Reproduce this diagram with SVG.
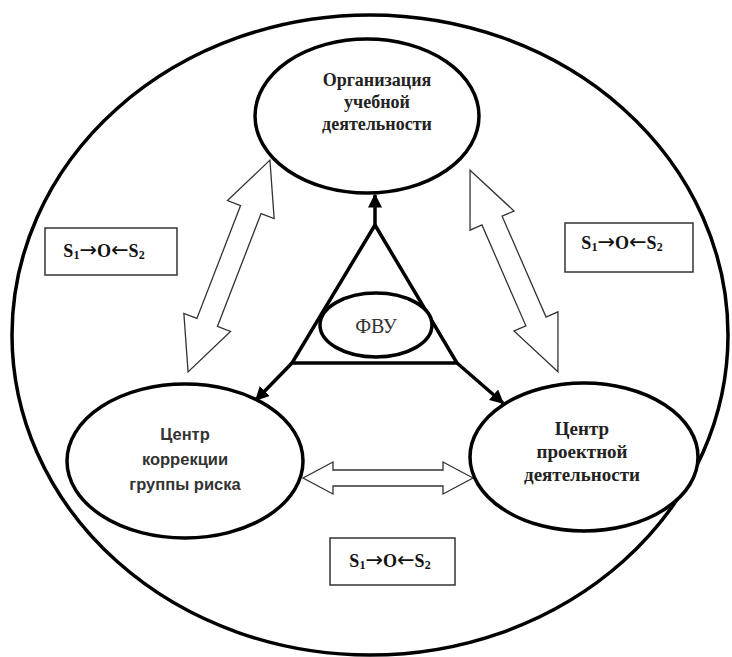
<svg xmlns="http://www.w3.org/2000/svg" width="732" height="657" viewBox="0 0 732 657">
<style>
.ell{fill:none;stroke:#000;stroke-width:3.5}
.node{fill:#fff;stroke:#000;stroke-width:3.5}
.blk{fill:#fff;stroke:#333;stroke-width:1.3;stroke-linejoin:miter}
.box{fill:#fff;stroke:#333;stroke-width:1.5}
.con{fill:none;stroke:#000;stroke-width:3.5}
.f{font-family:'Liberation Serif',serif;font-weight:bold;font-size:18px;fill:#111;text-anchor:middle}
.ar{font-family:'DejaVu Sans',sans-serif;font-weight:normal;font-size:21px}
.sub{font-size:12px}
</style>
<defs>
<marker id="ah" viewBox="0 0 10 10" refX="9" refY="5" markerWidth="4" markerHeight="4" orient="auto" markerUnits="strokeWidth">
<path d="M0,0 L10,5 L0,10 Z" fill="#000"/>
</marker>
</defs>
<rect width="732" height="657" fill="#fff"/>
<g id="outer">
<ellipse class="ell" cx="370" cy="335" rx="358" ry="320"/>
</g>
<g id="connectors">
<path class="blk" transform="translate(229,266) rotate(-68.86)" d="M113.5,0 L60.5,-25 L60.5,-11 L-60.5,-11 L-60.5,-25 L-113.5,0 L-60.5,25 L-60.5,11 L60.5,11 L60.5,25 Z"/>
<path class="blk" transform="translate(514,271) rotate(66.46)" d="M110,0 L55,-24 L55,-11 L-55,-11 L-55,-24 L-110,0 L-55,24 L-55,11 L55,11 L55,24 Z"/>
<path class="blk" transform="translate(388,478)" d="M85,0 L55,-16 L55,-8 L-55,-8 L-55,-16 L-85,0 L-55,16 L-55,8 L55,8 L55,16 Z"/>
<line class="con" x1="375" y1="225" x2="375" y2="195" marker-end="url(#ah)"/>
<line class="con" x1="292" y1="363" x2="256" y2="400" marker-end="url(#ah)"/>
<line class="con" x1="457" y1="363" x2="503" y2="403" marker-end="url(#ah)"/>
</g>
<g id="triangle">
<polygon class="con" points="375,225 292,363 457,363" stroke-linejoin="miter"/>
</g>
<g id="fvu">
<ellipse class="node" cx="376" cy="325" rx="56" ry="32"/>
<text x="376" y="333" font-family="'Liberation Serif', serif" font-size="20" fill="#333" text-anchor="middle">ФВУ</text>
</g>
<g id="top">
<ellipse class="node" cx="367" cy="116" rx="112" ry="77"/>
<text font-family="'Liberation Serif', serif" font-weight="bold" font-size="18" fill="#222" text-anchor="middle"><tspan x="377" y="86">Организация</tspan><tspan x="377" y="108">учебной</tspan><tspan x="377" y="130">деятельности</tspan></text>
</g>
<g id="left">
<ellipse class="node" cx="185" cy="461" rx="118" ry="77"/>
<text font-family="'Liberation Sans', sans-serif" font-weight="bold" font-size="16.5" fill="#333" text-anchor="middle"><tspan x="185" y="440">Центр</tspan><tspan x="185" y="465">коррекции</tspan><tspan x="185" y="490">группы риска</tspan></text>
</g>
<g id="right">
<ellipse class="node" cx="584" cy="457" rx="114" ry="74"/>
<text font-family="'Liberation Serif', serif" font-weight="bold" font-size="19" fill="#222" text-anchor="middle"><tspan x="582" y="435">Центр</tspan><tspan x="582" y="458">проектной</tspan><tspan x="582" y="481">деятельности</tspan></text>
</g>
<g id="label-left">
<rect class="box" x="45" y="228" width="132" height="47"/>
<text class="f" x="104" y="257">S<tspan class="sub" dy="2">1</tspan><tspan class="ar" dy="-2">→</tspan>O<tspan class="ar">←</tspan>S<tspan class="sub" dy="2">2</tspan></text>
</g>
<g id="label-right">
<rect class="box" x="565" y="223" width="128" height="49"/>
<text class="f" x="622" y="249">S<tspan class="sub" dy="2">1</tspan><tspan class="ar" dy="-2">→</tspan>O<tspan class="ar">←</tspan>S<tspan class="sub" dy="2">2</tspan></text>
</g>
<g id="label-bottom">
<rect class="box" x="330" y="538" width="125" height="47"/>
<text class="f" x="390" y="567">S<tspan class="sub" dy="2">1</tspan><tspan class="ar" dy="-2">→</tspan>O<tspan class="ar">←</tspan>S<tspan class="sub" dy="2">2</tspan></text>
</g>
</svg>
